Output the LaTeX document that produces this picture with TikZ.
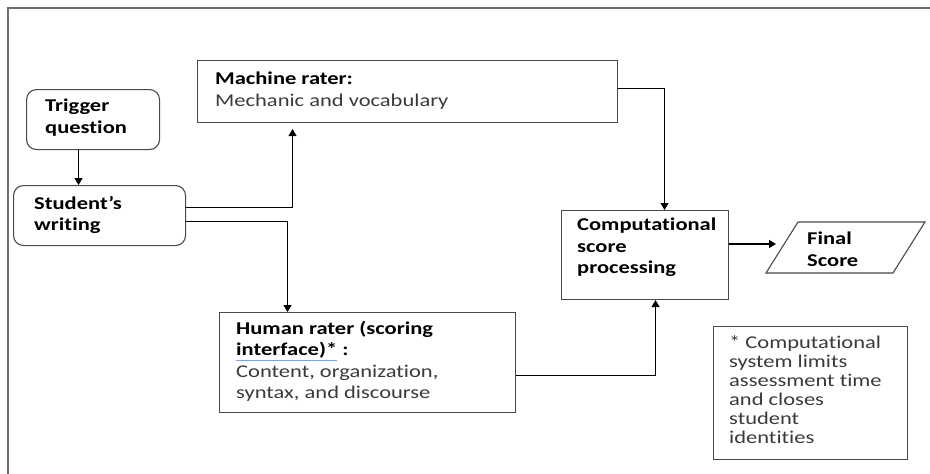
\documentclass[tikz,border=0pt]{standalone}
\usepackage{fontspec}
\setmainfont{Carlito}[FakeStretch=1.25,Ligatures=CommonOff]
\usetikzlibrary{arrows.meta}
\definecolor{linegray}{HTML}{4A4A4A}
\definecolor{txtgray}{HTML}{3A3A3A}
\definecolor{ulblue}{HTML}{7F9FE0}
\tikzset{
  frameline/.style={draw=linegray!80, line width=1.2pt},
  boxshape/.style={draw=linegray, line width=1.1pt, inner sep=0pt, anchor=north west},
  roundbox/.style={boxshape, rounded corners=10pt},
  boxtext/.style={anchor=north west, inner sep=0pt, align=left, font=\fontsize{18}{21.3}\selectfont},
  notetext/.style={anchor=north west, inner sep=0pt, align=left, text=txtgray, font=\fontsize{18}{19}\selectfont},
  arr/.style={draw=black, line width=1.2pt, -{Triangle[width=8pt,length=7pt]}},
}
\begin{document}
\begin{tikzpicture}[x=1pt,y=-1pt]
\useasboundingbox (0,0) rectangle (930,474);
\draw[frameline] (8,474) -- (8,8) -- (930,8);

% boxes
\node[roundbox, minimum width=133pt, minimum height=60pt] (trig) at (26,89) {};
\node[roundbox, minimum width=172pt, minimum height=60pt] (stud) at (13,185) {};
\node[boxshape, minimum width=420pt, minimum height=62pt] (mach) at (197,60) {};
\node[boxshape, minimum width=296pt, minimum height=100pt] (hum) at (219,312) {};
\node[boxshape, minimum width=167pt, minimum height=89pt] (comp) at (561,210) {};
\node[boxshape, minimum width=194pt, minimum height=133pt] (note) at (713,326) {};
% final score parallelogram
\draw[draw=linegray, line width=1.1pt] (766,273) -- (798,222) -- (925,222) -- (893,273) -- cycle;
\coordinate (finalin) at (780,244);

% texts
\node[boxtext] (trigT) at ([xshift=19pt,yshift=-10pt]trig.north west) {\textbf{Trigger}\\\textbf{question}};
\node[boxtext] (studT) at ([xshift=21pt,yshift=-11pt]stud.north west) {\textbf{Student’s}\\\textbf{writing}};
\node[boxtext] (machT) at ([xshift=18pt,yshift=-12pt]mach.north west) {\textbf{Machine rater:}\\{\color{txtgray}Mechanic and vocabulary}};
\node[boxtext] (humT) at ([xshift=17pt,yshift=-9pt]hum.north west) {\textbf{Human rater (scoring}\\\textcolor{ulblue}{\underline{\textcolor{black}{\textbf{interface)*}}}}\textbf{ :}\\{\color{txtgray}Content, organization,}\\{\color{txtgray}syntax, and discourse}};
\node[boxtext] (compT) at ([xshift=16pt,yshift=-8pt]comp.north west) {\textbf{Computational}\\\textbf{score}\\\textbf{processing}};
\node[boxtext] (finalT) at (807,232) {\textbf{Final}\\\textbf{Score}};
\node[notetext] (noteT) at ([xshift=16pt,yshift=-10pt]note.north west) {* Computational\\system limits\\assessment time\\and closes\\student\\identities};

% connectors
\draw[arr] ([xshift=-14.5pt]trig.south) -- ([xshift=-14.5pt]trig.south |- stud.north);
\draw[arr, shorten >=6pt] ([yshift=8pt]stud.east) -| ([xshift=-115pt]mach.south);
\draw[arr] ([yshift=-6pt]stud.east) -| ([xshift=-80pt]hum.north);
\draw[arr] ([yshift=3pt]mach.east) -| ([xshift=19.5pt]comp.north);
\draw[arr] ([yshift=-13pt]hum.east) -| ([xshift=10.5pt]comp.south);
\draw[arr, shorten >=4pt] (finalin -| comp.east) -- (finalin);
\end{tikzpicture}
\end{document}
